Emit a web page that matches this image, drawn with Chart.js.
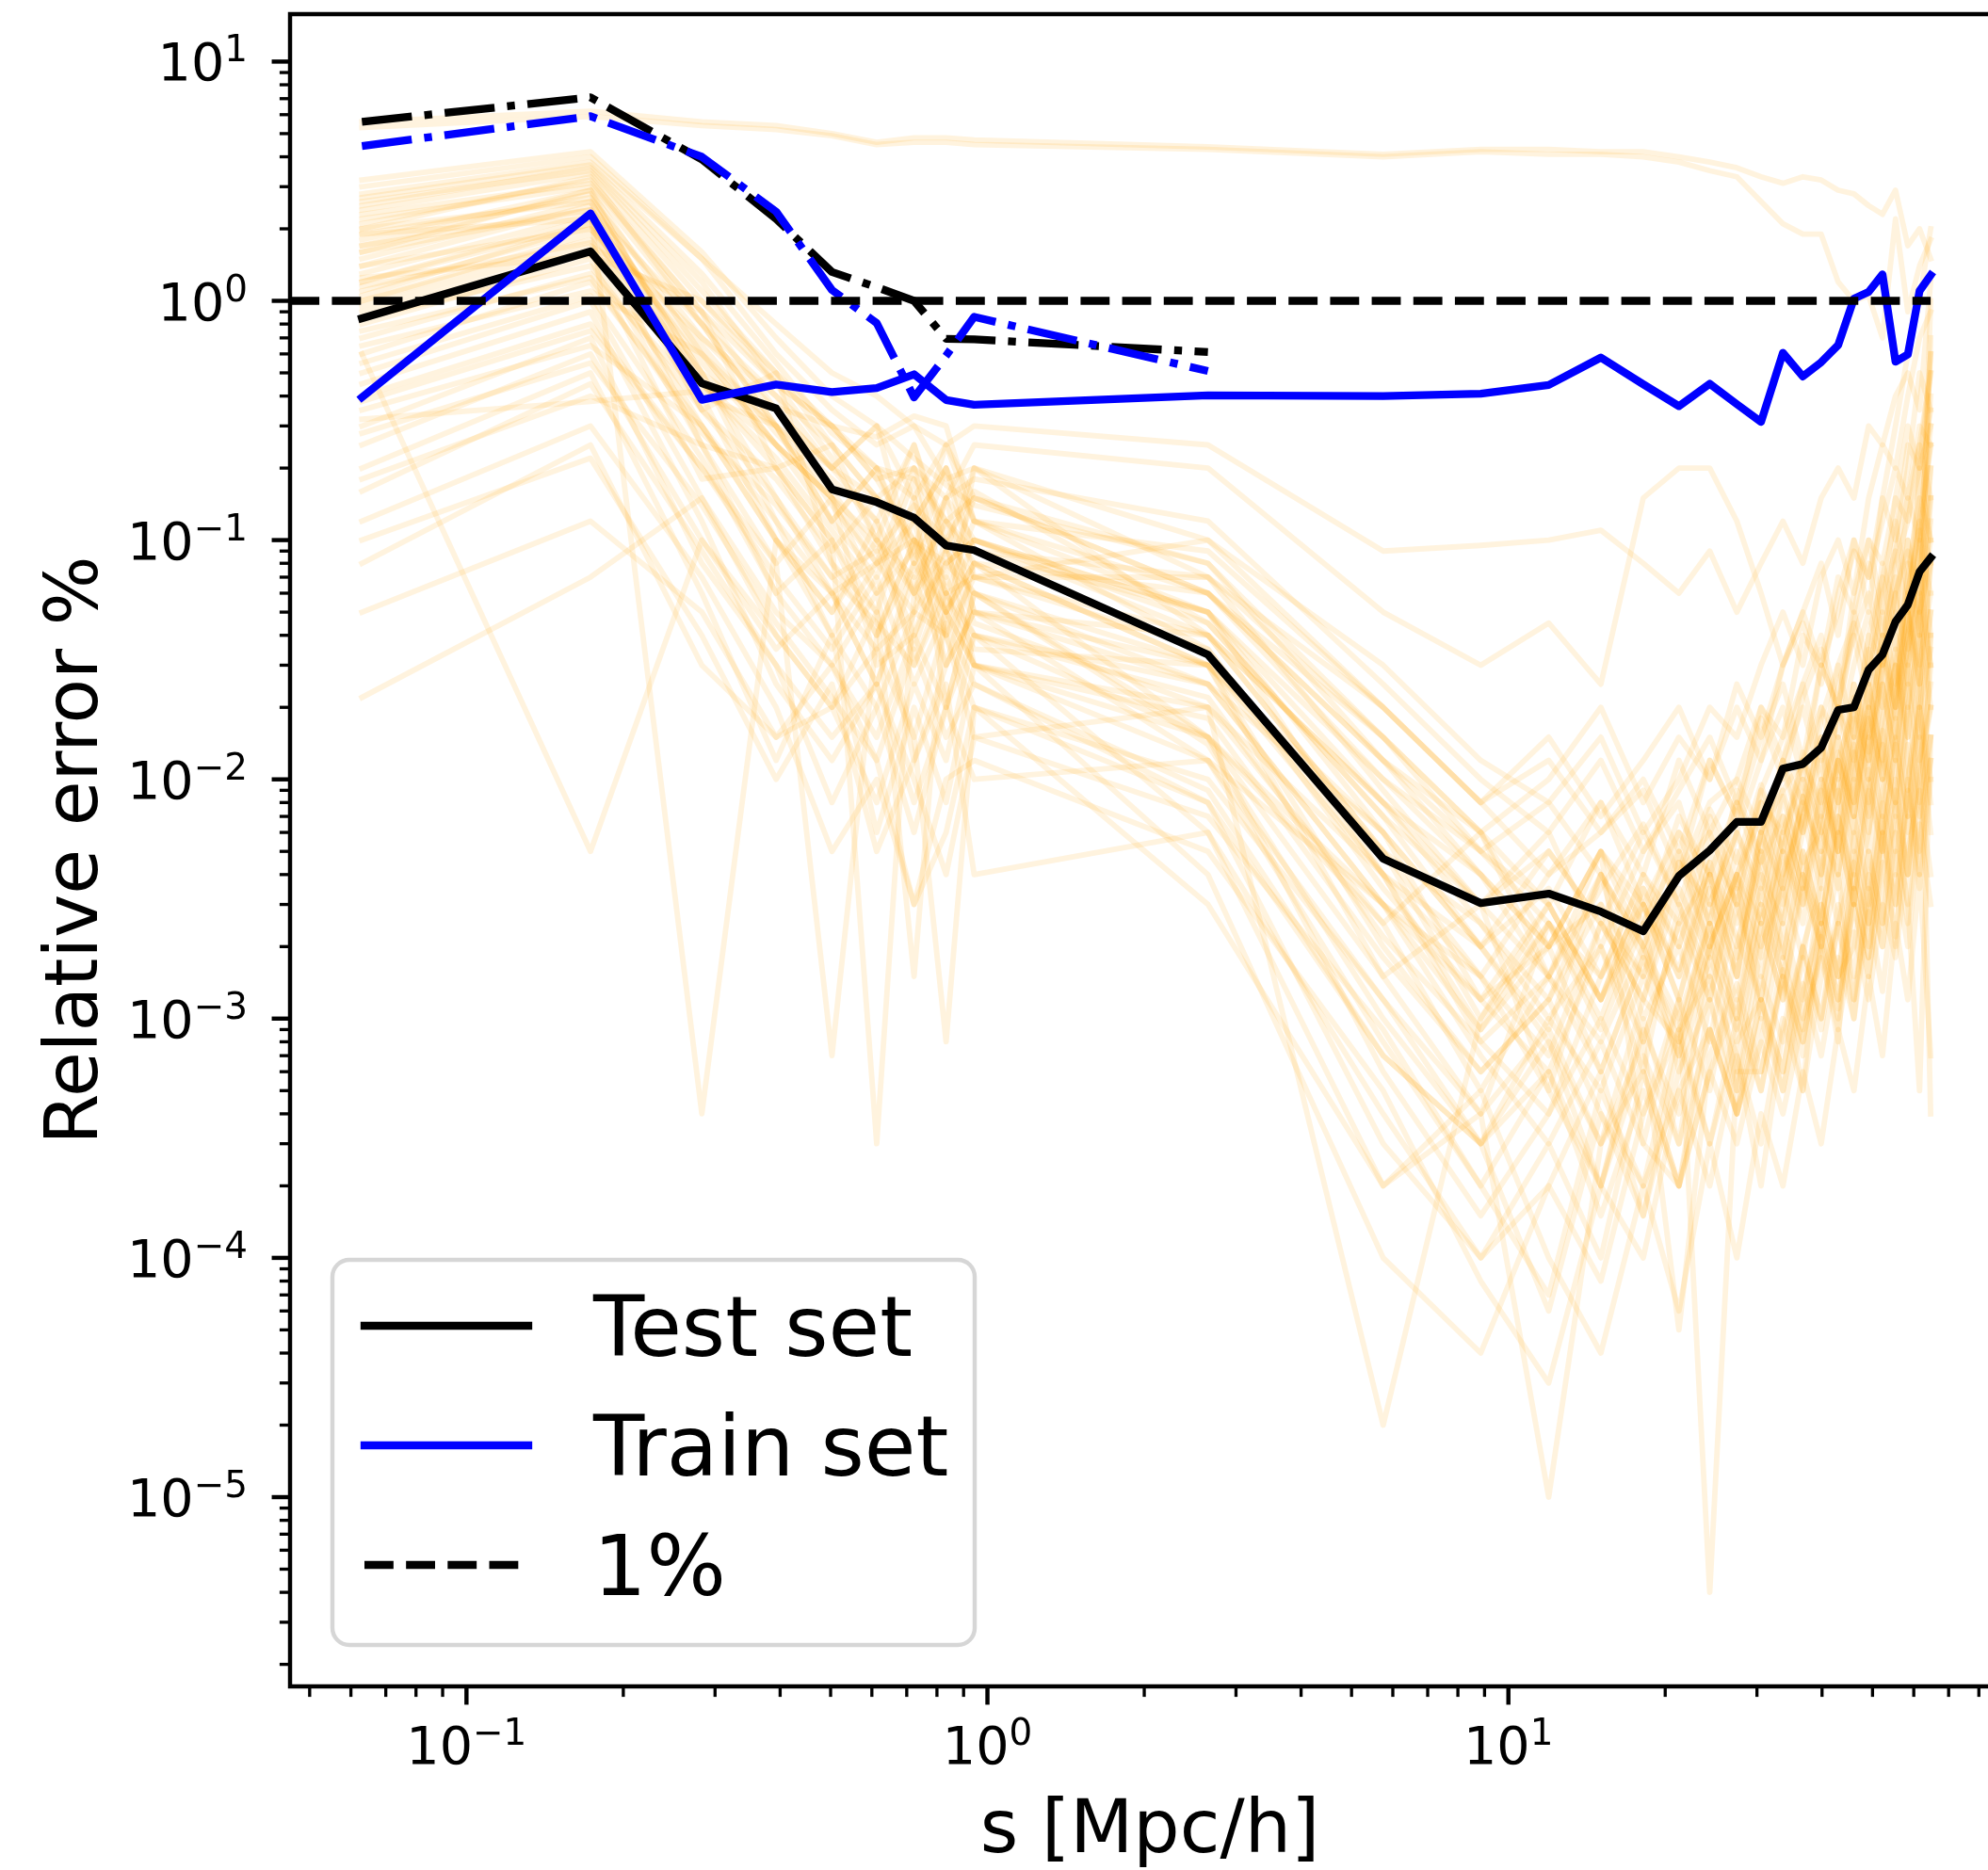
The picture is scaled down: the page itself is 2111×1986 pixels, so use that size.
<!DOCTYPE html>
<html>
<head>
<meta charset="utf-8">
<title>Relative error vs separation</title>
<script src="https://cdn.jsdelivr.net/npm/chart.js@4.4.1/dist/chart.umd.min.js"></script>
<style>
  html, body { margin: 0; padding: 0; background: #ffffff; overflow: hidden; }
  canvas { display: block; }
</style>
</head>
<body>
<canvas id="chart" width="2111" height="1986"></canvas>
<script>
// ========================================
// Data
// ========================================

// separation bins, s [Mpc/h]
const sValues = [0.063, 0.173, 0.283, 0.393, 0.503, 0.613, 0.723, 0.833, 0.943, 2.65,
                 5.75, 8.85, 11.95, 15.05, 18.15, 21.25, 24.35, 27.45, 30.55, 33.65,
                 36.75, 39.85, 42.95, 46.05, 49.15, 52.25, 55.35, 58.45, 61.55, 64.65];

// mean relative error in %
const testError = [0.846, 1.61, 0.452, 0.355, 0.163, 0.144, 0.124, 0.095, 0.0908, 0.0332,
                   0.00466, 0.00304, 0.00333, 0.0028, 0.00232, 0.00395, 0.00505, 0.00664, 0.00664, 0.0111,
                   0.0116, 0.01356, 0.0195, 0.020, 0.0287, 0.0332, 0.0456, 0.0537, 0.0737, 0.0844];
const trainError = [0.395, 2.32, 0.386, 0.447, 0.416, 0.432, 0.493, 0.385, 0.368, 0.403,
                    0.40, 0.409, 0.445, 0.579, 0.448, 0.363, 0.45, 0.37, 0.312, 0.606,
                    0.483, 0.554, 0.653, 1.02, 1.09, 1.29, 0.557, 0.597, 1.1, 1.28];

// dash-dot curves, only over the first ten bins
const testErrorSmall = [5.6, 7.09, 3.9, 2.2, 1.32, 1.14, 1.0, 0.694, 0.69, 0.611];
const trainErrorSmall = [4.44, 5.91, 4.0, 2.36, 1.11, 0.807, 0.395, 0.59, 0.857, 0.509];

// 1% reference level
const onePercentS = [0.0459, 64.65];
const onePercentLevel = [1, 1];

// individual test-set samples
const sample01 = [5.6, 6.2, 5.6, 5.4, 5.0, 4.6, 4.8, 4.8, 4.7, 4.4, 4.1, 4.3, 4.3, 4.2, 4.2, 4.0, 3.8, 3.6, 3.3, 3.1, 3.3, 3.2, 2.9, 2.8, 2.5, 2.3, 2.9, 1.7, 2.0, 1.5];
const sample02 = [5.3, 5.9, 5.4, 5.2, 4.9, 4.5, 4.6, 4.6, 4.5, 4.3, 4.0, 4.2, 4.1, 4.1, 4.0, 3.8, 3.5, 3.3, 2.6, 2.1, 1.9, 1.9, 1.2, 1.0, 1.05, 0.7, 2.2, 0.9, 1.4, 1.8];
const sample03 = [2.5, 3.6, 1.2, 0.45, 0.3, 0.18, 0.2, 0.12, 0.15, 0.06, 0.012, 0.004, 0.002, 0.003, 0.0015, 0.004, 0.006, 0.01, 0.02, 0.015, 0.04, 0.03, 0.05, 0.09, 0.07, 0.12, 0.2, 0.15, 0.3, 0.25];
const sample04 = [1.8, 2.9, 0.6, 0.3, 0.12, 0.2, 0.09, 0.05, 0.08, 0.03, 0.002, 0.0006, 0.0012, 0.003, 0.0008, 0.0025, 0.004, 0.0015, 0.006, 0.009, 0.012, 0.006, 0.02, 0.015, 0.04, 0.03, 0.06, 0.09, 0.05, 0.1];
const sample05 = [1.2, 2.2, 0.35, 0.5, 0.08, 0.05, 0.15, 0.02, 0.06, 0.015, 0.0015, 0.003, 0.0005, 0.0002, 0.001, 0.0003, 0.002, 0.004, 0.001, 0.003, 0.007, 0.015, 0.004, 0.01, 0.025, 0.012, 0.008, 0.03, 0.05, 0.02];
const sample06 = [0.9, 1.6, 0.25, 0.08, 0.15, 0.03, 0.04, 0.1, 0.03, 0.02, 0.004, 0.0008, 0.0004, 0.0015, 0.003, 0.0012, 0.0005, 0.002, 0.005, 0.002, 0.001, 0.004, 0.009, 0.003, 0.006, 0.015, 0.03, 0.012, 0.004, 0.04];
const sample07 = [2.1, 3.2, 0.9, 0.2, 0.25, 0.1, 0.06, 0.15, 0.1, 0.04, 0.008, 0.003, 0.006, 0.002, 0.005, 0.008, 0.003, 0.006, 0.012, 0.02, 0.01, 0.03, 0.02, 0.05, 0.03, 0.08, 0.05, 0.15, 0.1, 0.4];
const sample08 = [0.5, 1.0, 0.15, 0.05, 0.03, 0.06, 0.012, 0.03, 0.05, 0.012, 0.0008, 0.0002, 0.00007, 0.0005, 0.0002, 0.0009, 0.0015, 0.0006, 0.0025, 0.0012, 0.004, 0.002, 0.0008, 0.006, 0.003, 0.01, 0.005, 0.02, 0.008, 0.015];
const sample09 = [1.5, 2.6, 0.5, 0.15, 0.06, 0.08, 0.2, 0.06, 0.12, 0.05, 0.006, 0.002, 0.0009, 0.004, 0.001, 0.002, 0.0008, 0.003, 0.0015, 0.004, 0.008, 0.005, 0.012, 0.007, 0.02, 0.04, 0.02, 0.06, 0.12, 0.08];
const sample10 = [0.3, 0.7, 0.08, 0.03, 0.008, 0.02, 0.05, 0.04, 0.02, 0.008, 0.0003, 0.0001, 0.0003, 0.0001, 0.0006, 0.0002, 0.0012, 0.0004, 0.0008, 0.0025, 0.0012, 0.003, 0.0015, 0.002, 0.005, 0.0025, 0.01, 0.004, 0.015, 0.006];
const sample11 = [1.1, 2.0, 0.7, 0.35, 0.2, 0.3, 0.08, 0.2, 0.07, 0.1, 0.02, 0.008, 0.004, 0.006, 0.009, 0.004, 0.012, 0.007, 0.02, 0.012, 0.025, 0.04, 0.02, 0.06, 0.1, 0.05, 0.15, 0.3, 0.2, 0.6];
const sample12 = [0.2, 0.5, 0.06, 0.012, 0.04, 0.006, 0.02, 0.008, 0.03, 0.004, 0.0001, 0.00004, 0.0002, 0.0006, 0.00015, 0.0008, 0.0003, 0.001, 0.0005, 0.0015, 0.0007, 0.002, 0.004, 0.0012, 0.003, 0.007, 0.002, 0.01, 0.004, 0.012];
const sample13 = [2.8, 3.8, 1.5, 0.6, 0.35, 0.25, 0.3, 0.18, 0.2, 0.1, 0.03, 0.012, 0.008, 0.015, 0.006, 0.01, 0.02, 0.015, 0.03, 0.05, 0.03, 0.07, 0.1, 0.06, 0.15, 0.25, 0.2, 0.4, 0.7, 0.9];
const sample14 = [0.7, 1.3, 0.4, 0.1, 0.05, 0.12, 0.03, 0.07, 0.04, 0.025, 0.003, 0.0012, 0.002, 0.0006, 0.0018, 0.0007, 0.0025, 0.001, 0.004, 0.0018, 0.005, 0.0025, 0.008, 0.014, 0.006, 0.02, 0.035, 0.015, 0.05, 0.08];
const sample15 = [0.08, 0.25, 0.03, 0.015, 0.02, 0.008, 0.025, 0.012, 0.04, 0.006, 0.0002, 0.0004, 0.00001, 0.0003, 0.0006, 0.0002, 0.0009, 0.0004, 0.0012, 0.0006, 0.002, 0.001, 0.003, 0.0015, 0.005, 0.0025, 0.008, 0.004, 0.012, 0.02];
const sample16 = [1.6, 2.4, 0.0004, 0.1, 0.05, 0.1, 0.04, 0.08, 0.06, 0.03, 0.005, 0.001, 0.003, 0.0012, 0.0035, 0.002, 0.005, 0.003, 0.0012, 0.006, 0.01, 0.004, 0.015, 0.008, 0.025, 0.012, 0.04, 0.02, 0.07, 0.03];
const sample17 = [0.4, 0.8, 0.2, 0.08, 0.0007, 0.04, 0.1, 0.03, 0.08, 0.015, 0.0025, 0.0005, 0.0015, 0.004, 0.002, 0.0008, 0.003, 0.0015, 0.005, 0.0025, 0.007, 0.012, 0.005, 0.018, 0.01, 0.03, 0.015, 0.05, 0.025, 0.08];
const sample18 = [1.0, 1.8, 0.45, 0.2, 0.1, 0.0003, 0.06, 0.12, 0.05, 0.04, 0.008, 0.0025, 0.001, 0.002, 0.0006, 0.003, 0.0012, 0.004, 0.002, 0.006, 0.003, 0.009, 0.015, 0.007, 0.02, 0.01, 0.03, 0.06, 0.025, 0.15];
const sample19 = [2.2, 3.0, 0.8, 0.3, 0.18, 0.12, 0.25, 0.09, 0.2, 0.07, 0.015, 0.005, 0.003, 0.008, 0.004, 0.012, 0.006, 0.003, 0.009, 0.015, 0.025, 0.012, 0.03, 0.045, 0.025, 0.07, 0.12, 0.06, 0.18, 0.35];
const sample20 = [0.25, 0.6, 0.1, 0.04, 0.02, 0.05, 0.015, 0.0008, 0.02, 0.01, 0.0012, 0.0003, 0.0008, 0.0002, 0.0001, 0.0005, 0.0002, 0.0007, 0.0003, 0.001, 0.0005, 0.0015, 0.0025, 0.001, 0.004, 0.002, 0.006, 0.003, 0.01, 0.02];
const sample21 = [1.3, 2.3, 0.55, 0.25, 0.12, 0.07, 0.18, 0.05, 0.1, 0.05, 0.01, 0.004, 0.0015, 0.0008, 0.002, 0.006, 0.0025, 0.008, 0.004, 0.0025, 0.006, 0.01, 0.006, 0.02, 0.012, 0.035, 0.02, 0.08, 0.04, 0.2];
const sample22 = [0.6, 1.2, 0.3, 0.12, 0.06, 0.025, 0.08, 0.04, 0.015, 0.02, 0.0025, 0.006, 0.0015, 0.005, 0.0003, 0.0012, 0.004, 0.0008, 0.0025, 0.0012, 0.0035, 0.002, 0.006, 0.003, 0.009, 0.016, 0.008, 0.025, 0.012, 0.04];
const sample23 = [3.0, 4.0, 1.5, 0.8, 0.5, 0.4, 0.3, 0.25, 0.3, 0.25, 0.09, 0.095, 0.1, 0.11, 0.08, 0.06, 0.09, 0.05, 0.08, 0.12, 0.08, 0.15, 0.2, 0.15, 0.3, 0.25, 0.4, 0.5, 0.35, 1.2];
const sample24 = [1.9, 2.7, 0.7, 0.4, 0.25, 0.15, 0.2, 0.15, 0.25, 0.2, 0.05, 0.03, 0.045, 0.025, 0.15, 0.2, 0.2, 0.12, 0.06, 0.03, 0.05, 0.08, 0.04, 0.1, 0.07, 0.15, 0.1, 0.25, 0.2, 0.5];
const sample25 = [0.18, 0.4, 0.25, 0.06, 0.03, 0.015, 0.04, 0.02, 0.04, 0.015, 0.0006, 0.00015, 0.0004, 0.001, 0.0004, 0.0012, 0.000004, 0.0006, 0.0006, 0.0015, 0.0008, 0.002, 0.001, 0.0035, 0.0018, 0.006, 0.003, 0.009, 0.005, 0.015];
const sample26 = [0.8, 1.5, 0.18, 0.2, 0.08, 0.04, 0.1, 0.06, 0.035, 0.03, 0.0015, 0.0004, 0.0025, 0.0009, 0.0025, 0.0006, 0.0018, 0.0009, 0.003, 0.0015, 0.0005, 0.003, 0.0015, 0.005, 0.0025, 0.008, 0.004, 0.014, 0.007, 0.03];
const sample27 = [1.4, 2.5, 0.35, 0.15, 0.07, 0.09, 0.035, 0.09, 0.045, 0.02, 0.00002, 0.001, 0.0025, 0.0015, 0.004, 0.0025, 0.007, 0.0035, 0.009, 0.005, 0.013, 0.007, 0.02, 0.01, 0.03, 0.05, 0.025, 0.07, 0.15, 0.1];
const sample28 = [0.45, 0.9, 0.12, 0.025, 0.012, 0.025, 0.01, 0.004, 0.015, 0.007, 0.0009, 0.0002, 0.0006, 0.0002, 0.0009, 0.0004, 0.0015, 0.0007, 0.0002, 0.0009, 0.002, 0.001, 0.0025, 0.0045, 0.002, 0.006, 0.003, 0.01, 0.02, 0.008];
const sample29 = [2.4, 3.4, 1.0, 0.5, 0.25, 0.15, 0.12, 0.2, 0.12, 0.06, 0.01, 0.005, 0.008, 0.004, 0.002, 0.004, 0.008, 0.01, 0.006, 0.012, 0.02, 0.01, 0.025, 0.04, 0.02, 0.06, 0.09, 0.05, 0.12, 0.25];
const sample30 = [0.12, 0.3, 0.07, 0.02, 0.005, 0.01, 0.003, 0.01, 0.012, 0.005, 0.0005, 0.00008, 0.00003, 0.0002, 0.0007, 0.0003, 0.0009, 0.0004, 0.0012, 0.0006, 0.0018, 0.0009, 0.0025, 0.0012, 0.0035, 0.002, 0.005, 0.0025, 0.007, 0.012];
const sample31 = [1.7, 2.8, 0.45, 0.25, 0.15, 0.06, 0.12, 0.04, 0.07, 0.035, 0.004, 0.0015, 0.0005, 0.0025, 0.0012, 0.0035, 0.0018, 0.005, 0.0025, 0.007, 0.0035, 0.01, 0.005, 0.015, 0.008, 0.025, 0.012, 0.04, 0.09, 0.3];
const sample32 = [0.35, 0.65, 0.3, 0.1, 0.04, 0.02, 0.006, 0.02, 0.01, 0.012, 0.003, 0.0007, 0.0003, 0.0008, 0.0003, 0.0002, 0.0006, 0.0012, 0.0005, 0.0016, 0.0008, 0.0022, 0.0011, 0.003, 0.0015, 0.0045, 0.0022, 0.007, 0.0035, 0.01];
const sample33 = [1.0, 1.9, 0.5, 0.3, 0.14, 0.08, 0.05, 0.08, 0.1, 0.045, 0.007, 0.002, 0.005, 0.0025, 0.006, 0.003, 0.0015, 0.004, 0.007, 0.0035, 0.008, 0.015, 0.008, 0.022, 0.012, 0.03, 0.06, 0.03, 0.1, 0.06];
const sample34 = [0.05, 0.12, 0.05, 0.015, 0.03, 0.012, 0.003, 0.006, 0.02, 0.003, 0.0002, 0.0005, 0.0001, 0.00004, 0.0002, 0.00006, 0.0003, 0.0001, 0.0004, 0.0002, 0.0006, 0.0003, 0.0009, 0.0005, 0.0015, 0.0007, 0.0025, 0.0012, 0.004, 0.0007];
const sample35 = [0.022, 0.07, 0.15, 0.04, 0.02, 0.035, 0.015, 0.045, 0.025, 0.008, 0.0007, 0.0003, 0.001, 0.0005, 0.0015, 0.0007, 0.002, 0.001, 0.003, 0.0015, 0.004, 0.002, 0.006, 0.003, 0.009, 0.005, 0.014, 0.007, 0.02, 0.035];
const sample36 = [0.6, 0.005, 0.1, 0.035, 0.06, 0.025, 0.07, 0.03, 0.05, 0.025, 0.006, 0.0012, 0.0006, 0.002, 0.0008, 0.0025, 0.0012, 0.0035, 0.0018, 0.005, 0.0025, 0.007, 0.0035, 0.01, 0.005, 0.014, 0.007, 0.02, 0.04, 0.0004];
const sample37 = [0.32, 0.38, 0.42, 0.36, 0.3, 0.27, 0.33, 0.3, 0.12, 0.09, 0.02, 0.008, 0.015, 0.007, 0.012, 0.02, 0.01, 0.025, 0.015, 0.03, 0.05, 0.03, 0.07, 0.05, 0.1, 0.08, 0.15, 0.12, 0.25, 0.5];
const sample38 = [2.0, 3.3, 0.8, 0.4, 0.2, 0.3, 0.15, 0.25, 0.15, 0.08, 0.012, 0.006, 0.002, 0.005, 0.0025, 0.007, 0.004, 0.0015, 0.006, 0.012, 0.006, 0.018, 0.03, 0.015, 0.04, 0.07, 0.035, 0.1, 0.06, 0.15];
const sample39 = [1.2, 2.1, 0.25, 0.2, 0.1, 0.05, 0.0015, 0.06, 0.03, 0.015, 0.003, 0.0009, 0.0025, 0.001, 0.003, 0.0015, 0.0045, 0.002, 0.006, 0.003, 0.0085, 0.004, 0.012, 0.02, 0.01, 0.03, 0.05, 0.025, 0.07, 0.2];
const sample40 = [0.65, 1.1, 0.6, 0.25, 0.15, 0.08, 0.12, 0.2, 0.09, 0.05, 0.004, 0.002, 0.0008, 0.0003, 0.0012, 0.0045, 0.002, 0.006, 0.003, 0.0085, 0.004, 0.0025, 0.007, 0.004, 0.011, 0.006, 0.018, 0.009, 0.03, 0.06];
const sample41 = [2.6, 3.5, 1.1, 0.5, 0.3, 0.2, 0.08, 0.15, 0.18, 0.12, 0.025, 0.01, 0.006, 0.012, 0.005, 0.009, 0.015, 0.008, 0.018, 0.01, 0.022, 0.035, 0.018, 0.045, 0.08, 0.04, 0.1, 0.2, 0.5, 0.35];
const sample42 = [0.1, 0.22, 0.04, 0.01, 0.025, 0.005, 0.012, 0.025, 0.004, 0.006, 0.0004, 0.0001, 0.0002, 0.00008, 0.0004, 0.0009, 0.0003, 0.0008, 0.0012, 0.0005, 0.0014, 0.0007, 0.0018, 0.001, 0.0028, 0.0013, 0.004, 0.002, 0.0065, 0.003];
const sample43 = [0.95, 1.7, 0.9, 0.45, 0.22, 0.1, 0.25, 0.1, 0.07, 0.07, 0.009, 0.003, 0.005, 0.0025, 0.0015, 0.005, 0.0025, 0.009, 0.0045, 0.011, 0.006, 0.014, 0.008, 0.025, 0.013, 0.04, 0.02, 0.06, 0.11, 0.04];
const sample44 = [1.6, 2.9, 0.4, 0.3, 0.2, 0.12, 0.06, 0.04, 0.2, 0.04, 0.005, 0.0015, 0.004, 0.008, 0.003, 0.0012, 0.0035, 0.0018, 0.0045, 0.007, 0.0035, 0.009, 0.005, 0.013, 0.007, 0.018, 0.03, 0.015, 0.04, 1.0];
const sample45 = [2.3, 3.1, 0.9, 0.35, 0.2, 0.15, 0.1, 0.08, 0.1, 0.05, 0.008, 0.004, 0.002, 0.005, 0.003, 0.006, 0.004, 0.008, 0.005, 0.012, 0.008, 0.02, 0.015, 0.03, 0.05, 0.03, 0.08, 0.12, 0.2, 0.3];
const sample46 = [1.4, 2.0, 0.6, 0.25, 0.15, 0.1, 0.07, 0.12, 0.08, 0.03, 0.006, 0.002, 0.0035, 0.0015, 0.004, 0.002, 0.006, 0.003, 0.008, 0.006, 0.012, 0.008, 0.02, 0.012, 0.035, 0.02, 0.06, 0.1, 0.04, 0.12];
const sample47 = [0.85, 1.4, 0.35, 0.18, 0.09, 0.15, 0.06, 0.09, 0.06, 0.025, 0.003, 0.0015, 0.0007, 0.0025, 0.0012, 0.0008, 0.002, 0.004, 0.0025, 0.005, 0.003, 0.007, 0.012, 0.006, 0.015, 0.025, 0.012, 0.035, 0.06, 0.03];
const sample48 = [2.0, 2.6, 0.5, 0.12, 0.04, 0.08, 0.1, 0.07, 0.15, 0.06, 0.015, 0.006, 0.003, 0.0012, 0.0025, 0.005, 0.002, 0.004, 0.008, 0.004, 0.01, 0.006, 0.004, 0.012, 0.02, 0.01, 0.025, 0.05, 0.02, 0.08];
const sample49 = [0.55, 1.05, 0.22, 0.06, 0.1, 0.04, 0.08, 0.05, 0.03, 0.018, 0.0018, 0.0006, 0.0012, 0.0004, 0.00015, 0.0006, 0.0012, 0.0005, 0.0015, 0.0008, 0.002, 0.0035, 0.0015, 0.004, 0.0025, 0.006, 0.012, 0.006, 0.02, 0.01];
const sample50 = [1.7, 2.4, 0.8, 0.3, 0.12, 0.2, 0.15, 0.06, 0.07, 0.04, 0.005, 0.0025, 0.0012, 0.004, 0.0018, 0.0045, 0.003, 0.006, 0.0035, 0.009, 0.0045, 0.006, 0.013, 0.008, 0.018, 0.01, 0.022, 0.04, 0.08, 0.6];
const sample51 = [1.15, 1.75, 0.3, 0.1, 0.06, 0.035, 0.05, 0.15, 0.05, 0.03, 0.004, 0.0009, 0.002, 0.005, 0.002, 0.001, 0.0025, 0.0012, 0.0035, 0.0018, 0.005, 0.0025, 0.007, 0.0035, 0.01, 0.005, 0.014, 0.03, 0.015, 0.05];
const sample52 = [2.7, 3.7, 1.3, 0.55, 0.28, 0.2, 0.18, 0.12, 0.09, 0.07, 0.02, 0.008, 0.012, 0.006, 0.01, 0.005, 0.012, 0.007, 0.015, 0.025, 0.012, 0.03, 0.02, 0.04, 0.06, 0.035, 0.09, 0.15, 0.25, 0.15];
const sample53 = [0.38, 0.75, 0.2, 0.07, 0.035, 0.07, 0.025, 0.05, 0.03, 0.012, 0.0012, 0.0004, 0.0009, 0.0003, 0.0008, 0.00005, 0.0007, 0.0014, 0.0006, 0.0018, 0.0009, 0.0025, 0.0012, 0.0035, 0.0018, 0.005, 0.009, 0.004, 0.012, 0.025];
const sample54 = [1.05, 2.1, 0.45, 0.22, 0.11, 0.06, 0.09, 0.25, 0.12, 0.035, 0.0035, 0.0012, 0.003, 0.0012, 0.0035, 0.0015, 0.004, 0.0022, 0.0012, 0.004, 0.007, 0.0035, 0.01, 0.005, 0.015, 0.007, 0.02, 0.035, 0.2, 0.1];
const sample55 = [3.2, 4.2, 1.6, 0.7, 0.4, 0.3, 0.22, 0.17, 0.14, 0.08, 0.015, 0.006, 0.01, 0.02, 0.008, 0.015, 0.01, 0.02, 0.012, 0.03, 0.045, 0.025, 0.06, 0.1, 0.05, 0.15, 0.3, 0.6, 1.0, 2.0];
const sample56 = [0.75, 1.25, 0.28, 0.14, 0.07, 0.045, 0.03, 0.06, 0.04, 0.022, 0.0022, 0.0008, 0.0015, 0.0006, 0.0018, 0.0009, 0.0025, 0.0005, 0.002, 0.0035, 0.0018, 0.005, 0.0025, 0.007, 0.0035, 0.009, 0.015, 0.007, 0.025, 0.05];
const sample57 = [1.9, 2.2, 0.65, 0.28, 0.16, 0.09, 0.14, 0.1, 0.16, 0.045, 0.007, 0.003, 0.0015, 0.0035, 0.0065, 0.003, 0.0075, 0.0045, 0.0095, 0.005, 0.012, 0.02, 0.01, 0.025, 0.015, 0.04, 0.07, 0.035, 0.1, 0.25];
const sample58 = [0.28, 0.55, 0.14, 0.045, 0.022, 0.012, 0.035, 0.015, 0.025, 0.009, 0.0007, 0.0003, 0.00006, 0.0004, 0.0002, 0.0005, 0.0009, 0.0004, 0.001, 0.0005, 0.0013, 0.0025, 0.0012, 0.003, 0.0015, 0.004, 0.007, 0.003, 0.0005, 0.015];
const sample59 = [1.25, 1.55, 1.0, 0.45, 0.3, 0.18, 0.1, 0.05, 0.08, 0.06, 0.012, 0.005, 0.0025, 0.0012, 0.003, 0.0016, 0.0045, 0.0025, 0.006, 0.0035, 0.0085, 0.005, 0.012, 0.007, 0.018, 0.035, 0.018, 0.05, 0.03, 0.7];
const sample60 = [0.16, 0.45, 0.09, 0.03, 0.015, 0.025, 0.008, 0.02, 0.06, 0.014, 0.001, 0.0003, 0.0006, 0.00015, 0.0005, 0.0002, 0.0006, 0.0003, 0.0008, 0.0004, 0.001, 0.0018, 0.0009, 0.0023, 0.0012, 0.003, 0.0018, 0.005, 0.009, 0.004];

const testSamples = [
    sample01, sample02, sample03, sample04, sample05, sample06, sample07, sample08, sample09, sample10,
    sample11, sample12, sample13, sample14, sample15, sample16, sample17, sample18, sample19, sample20,
    sample21, sample22, sample23, sample24, sample25, sample26, sample27, sample28, sample29, sample30,
    sample31, sample32, sample33, sample34, sample35, sample36, sample37, sample38, sample39, sample40,
    sample41, sample42, sample43, sample44, sample45, sample46, sample47, sample48, sample49, sample50,
    sample51, sample52, sample53, sample54, sample55, sample56, sample57, sample58, sample59, sample60
];

// axis ticks
const xMajorTicks = [0.1, 1, 10];
const xTickExponents = ['\u22121', '0', '1'];
const yMajorTicks = [1e-5, 1e-4, 1e-3, 1e-2, 1e-1, 1, 10];
const yTickExponents = ['\u22125', '\u22124', '\u22123', '\u22122', '\u22121', '0', '1'];
const minorMultipliers = [2, 3, 4, 5, 6, 7, 8, 9];

const legendLabels = ['Test set', 'Train set', '1%'];

// ========================================
// Styling (figure was saved at ~400 dpi)
// ========================================
const PT = 400 / 72;
const FONT = '"DejaVu Sans", "Liberation Sans", sans-serif';
const LINE_W = 1.5 * PT;
const DASHED = [3.7 * LINE_W, 1.6 * LINE_W];
const DASH_DOT = [6.4 * LINE_W, 1.6 * LINE_W, 1.0 * LINE_W, 1.6 * LINE_W];

const toPoints = (xs, ys) => ys.map((y, i) => ({ x: xs[i], y }));

const datasets = [];

datasets.push({
    label: '1%',
    data: toPoints(onePercentS, onePercentLevel),
    borderColor: '#000000',
    borderWidth: LINE_W,
    borderDash: DASHED,
    borderCapStyle: 'butt',
    borderJoinStyle: 'round',
    order: 1
});
datasets.push({
    label: 'Train set (small scales)',
    data: toPoints(sValues, trainErrorSmall),
    borderColor: '#0000ff',
    borderWidth: LINE_W,
    borderDash: DASH_DOT,
    borderCapStyle: 'butt',
    borderJoinStyle: 'round',
    order: 2
});
datasets.push({
    label: 'Test set (small scales)',
    data: toPoints(sValues, testErrorSmall),
    borderColor: '#000000',
    borderWidth: LINE_W,
    borderDash: DASH_DOT,
    borderCapStyle: 'butt',
    borderJoinStyle: 'round',
    order: 3
});
datasets.push({
    label: 'Train set',
    data: toPoints(sValues, trainError),
    borderColor: '#0000ff',
    borderWidth: LINE_W,
    borderCapStyle: 'square',
    borderJoinStyle: 'round',
    order: 4
});
datasets.push({
    label: 'Test set',
    data: toPoints(sValues, testError),
    borderColor: '#000000',
    borderWidth: LINE_W,
    borderCapStyle: 'square',
    borderJoinStyle: 'round',
    order: 5
});
testSamples.forEach((sample, i) => {
    datasets.push({
        label: 'sample ' + (i + 1),
        data: toPoints(sValues, sample),
        borderColor: 'rgba(255, 165, 0, 0.13)',
        borderWidth: 1.05 * PT,
        borderCapStyle: 'square',
        borderJoinStyle: 'round',
        order: 10
    });
});

// ========================================
// Axes, ticks, labels and legend drawn like matplotlib
// ========================================
function drawPower(ctx, exponent, x, baseline, align) {
    const baseSize = 10 * PT;
    const supSize = 7 * PT;
    ctx.font = `${baseSize}px ${FONT}`;
    const wBase = ctx.measureText('10').width;
    ctx.font = `${supSize}px ${FONT}`;
    const wExp = ctx.measureText(exponent).width;
    const total = wBase + wExp;
    const left = align === 'center' ? x - total / 2 : x - total;
    ctx.textAlign = 'left';
    ctx.textBaseline = 'alphabetic';
    ctx.font = `${baseSize}px ${FONT}`;
    ctx.fillText('10', left, baseline);
    ctx.font = `${supSize}px ${FONT}`;
    ctx.fillText(exponent, left + wBase, baseline - 20);
}

function tick(ctx, x1, y1, x2, y2, width) {
    ctx.lineWidth = width;
    ctx.beginPath();
    ctx.moveTo(x1, y1);
    ctx.lineTo(x2, y2);
    ctx.stroke();
}

const axesPlugin = {
    id: 'mplAxes',
    afterDatasetsDraw(chart) {
        const { ctx, chartArea: area, scales } = chart;
        const xs = scales.x;
        const ys = scales.y;
        const majorLen = 3.5 * PT, minorLen = 2 * PT;
        const majorW = 0.8 * PT, minorW = 0.6 * PT;

        ctx.save();
        ctx.strokeStyle = '#000000';
        ctx.fillStyle = '#000000';
        ctx.lineCap = 'butt';

        // x ticks
        for (let d = -2; d <= 1; d++) {
            minorMultipliers.forEach(m => {
                const v = m * Math.pow(10, d);
                if (v < xs.min || v > xs.max) return;
                const px = xs.getPixelForValue(v);
                tick(ctx, px, area.bottom, px, area.bottom + minorLen, minorW);
            });
        }
        xMajorTicks.forEach((v, i) => {
            const px = xs.getPixelForValue(v);
            tick(ctx, px, area.bottom, px, area.bottom + majorLen, majorW);
            drawPower(ctx, xTickExponents[i], px, area.bottom + 82, 'center');
        });

        // y ticks
        for (let d = -6; d <= 1; d++) {
            minorMultipliers.forEach(m => {
                const v = m * Math.pow(10, d);
                if (v < ys.min || v > ys.max) return;
                const py = ys.getPixelForValue(v);
                tick(ctx, area.left, py, area.left - minorLen, py, minorW);
            });
        }
        yMajorTicks.forEach((v, i) => {
            const py = ys.getPixelForValue(v);
            tick(ctx, area.left, py, area.left - majorLen, py, majorW);
            drawPower(ctx, yTickExponents[i], area.left - 45, py + 20, 'right');
        });

        // spines (no right spine: the figure is cut on that side)
        ctx.lineWidth = 0.8 * PT;
        ctx.lineJoin = 'miter';
        ctx.beginPath();
        ctx.moveTo(chart.width + 10, area.top);
        ctx.lineTo(area.left, area.top);
        ctx.lineTo(area.left, area.bottom);
        ctx.lineTo(chart.width + 10, area.bottom);
        ctx.stroke();

        // axis titles
        ctx.font = `${14 * PT}px ${FONT}`;
        ctx.textAlign = 'center';
        ctx.textBaseline = 'alphabetic';
        ctx.fillText('s [Mpc/h]', 1221, area.bottom + 176);

        ctx.save();
        ctx.translate(103, (area.top + area.bottom) / 2);
        ctx.rotate(-Math.PI / 2);
        ctx.fillText('Relative error %', 0, 0);
        ctx.restore();

        ctx.restore();
    },
    afterDraw(chart) {
        const ctx = chart.ctx;
        const box = { x: 353, y: 1338, w: 682, h: 409, r: 18 };
        ctx.save();
        ctx.beginPath();
        ctx.moveTo(box.x + box.r, box.y);
        ctx.arcTo(box.x + box.w, box.y, box.x + box.w, box.y + box.h, box.r);
        ctx.arcTo(box.x + box.w, box.y + box.h, box.x, box.y + box.h, box.r);
        ctx.arcTo(box.x, box.y + box.h, box.x, box.y, box.r);
        ctx.arcTo(box.x, box.y, box.x + box.w, box.y, box.r);
        ctx.closePath();
        ctx.fillStyle = 'rgba(255, 255, 255, 0.8)';
        ctx.fill();
        ctx.lineWidth = 0.8 * PT;
        ctx.strokeStyle = 'rgba(204, 204, 204, 0.8)';
        ctx.stroke();

        const styles = [
            { color: '#000000', dash: [] },
            { color: '#0000ff', dash: [] },
            { color: '#000000', dash: DASHED }
        ];
        ctx.font = `${16 * PT}px ${FONT}`;
        ctx.textAlign = 'left';
        ctx.textBaseline = 'alphabetic';
        legendLabels.forEach((label, i) => {
            const yLine = 1408 + i * 127;
            ctx.strokeStyle = styles[i].color;
            ctx.lineWidth = LINE_W;
            ctx.lineCap = styles[i].dash.length ? 'butt' : 'square';
            ctx.setLineDash(styles[i].dash);
            ctx.beginPath();
            ctx.moveTo(387, yLine);
            ctx.lineTo(561, yLine);
            ctx.stroke();
            ctx.setLineDash([]);
            ctx.fillStyle = '#000000';
            ctx.fillText(label, 630, yLine + 32);
        });
        ctx.restore();
    }
};

// ========================================
// Chart
// ========================================
new Chart(document.getElementById('chart').getContext('2d'), {
    type: 'line',
    data: { datasets },
    options: {
        responsive: false,
        maintainAspectRatio: false,
        devicePixelRatio: 1,
        animation: false,
        events: [],
        layout: {
            padding: { left: 308, top: 15, right: 0, bottom: 195 }
        },
        elements: {
            point: { radius: 0, hoverRadius: 0 },
            line: { tension: 0 }
        },
        scales: {
            x: { type: 'logarithmic', min: 0.04585, max: 83.3, display: false },
            y: { type: 'logarithmic', min: 1.618e-6, max: 15.79, display: false }
        },
        plugins: {
            legend: { display: false },
            tooltip: { enabled: false }
        }
    },
    plugins: [axesPlugin]
});
</script>
</body>
</html>
